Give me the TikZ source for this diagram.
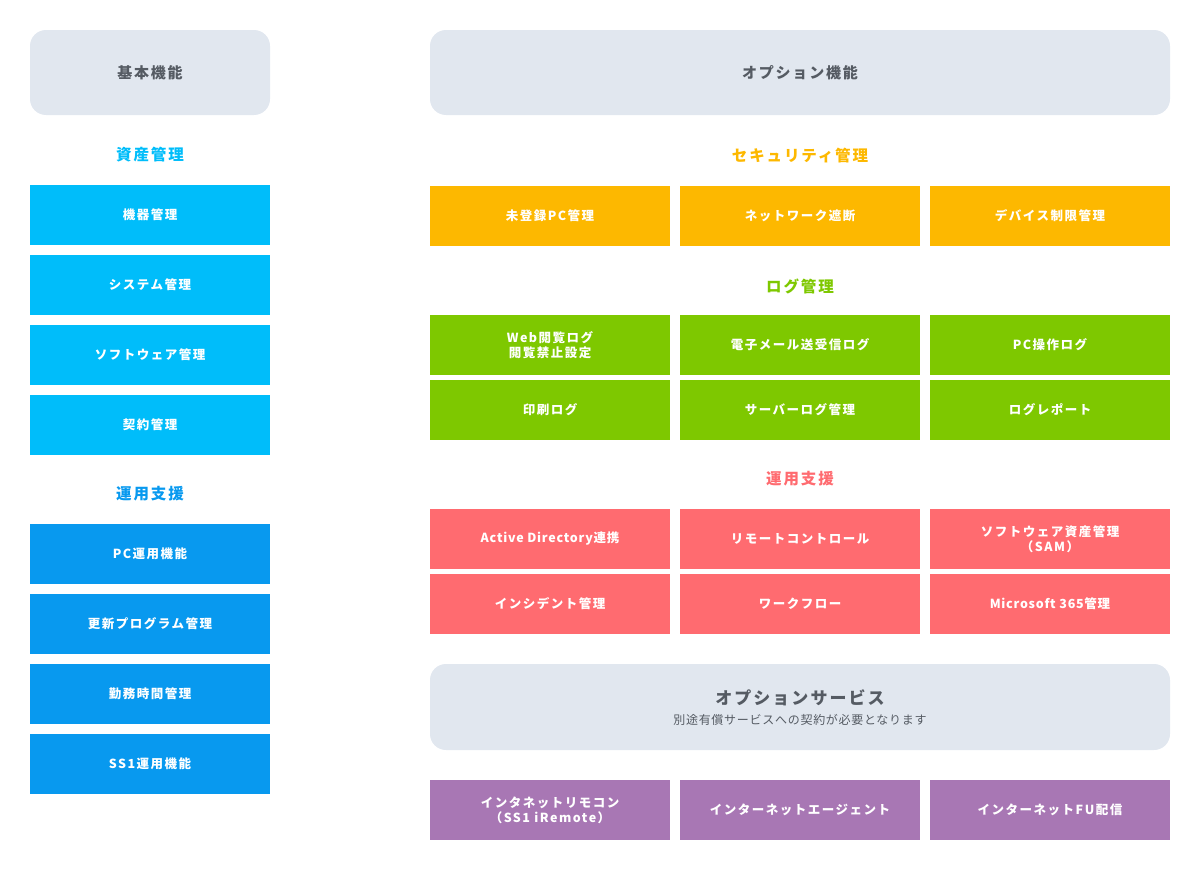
\documentclass[tikz,border=0pt]{standalone}
\usepackage{fontspec}
\setmainfont{Noto Sans CJK JP}[LetterSpace=12]
\newfontfamily\subfont{Noto Sans CJK JP}[LetterSpace=6]
\usetikzlibrary{positioning}
\definecolor{headbg}{HTML}{E1E7EF}
\definecolor{headtx}{HTML}{555B63}
\definecolor{assetc}{HTML}{00BDFA}
\definecolor{supportc}{HTML}{0899EF}
\definecolor{secc}{HTML}{FDB800}
\definecolor{logc}{HTML}{7EC800}
\definecolor{opc}{HTML}{FF6B70}
\definecolor{svcc}{HTML}{A877B4}
\tikzset{
  headbox/.style={fill=headbg, rounded corners=16pt, text=headtx, font=\bfseries\fontsize{15}{18}\selectfont},
  cell/.style={fill=#1, text=white, minimum width=240pt, minimum height=60pt, inner sep=0pt, align=center, font=\bfseries\fontsize{12.5}{15}\selectfont},
  grouplabel/.style={text=#1, font=\bfseries\fontsize{15.5}{18}\selectfont}
}
\begin{document}
\begin{tikzpicture}[x=1pt,y=-1pt]
  \useasboundingbox (0,0) rectangle (1200,870);

  % left column
  \node[headbox, minimum width=240pt, minimum height=85pt] (basic) at (150,72.5) {基本機能};
  \node[grouplabel=assetc] (asset) at (150,155) {資産管理};
  \foreach \t [count=\i] in {機器管理,システム管理,ソフトウェア管理,契約管理}
    \node[cell=assetc] (asset\i) at (150,{215+70*(\i-1)}) {\t};
  \node[grouplabel=supportc] (support) at (150,494) {運用支援};
  \foreach \t [count=\i] in {PC運用機能,更新プログラム管理,勤務時間管理,SS1運用機能}
    \node[cell=supportc] (support\i) at (150,{554+70*(\i-1)}) {\t};

  % right column
  \node[headbox, minimum width=740pt, minimum height=85pt] (option) at (800,72.5) {オプション機能};
  \node[grouplabel=secc] (sec) at (800,156) {セキュリティ管理};
  \foreach \t [count=\i] in {未登録PC管理,ネットワーク遮断,デバイス制限管理}
    \node[cell=secc] (sec\i) at ({550+250*(\i-1)},216) {\t};

  \node[grouplabel=logc] (log) at (800,286) {ログ管理};
  \foreach \t [count=\i] in {{Web閲覧ログ\\閲覧禁止設定},電子メール送受信ログ,PC操作ログ}
    \node[cell=logc] (log\i) at ({550+250*(\i-1)},345) {\t};
  \foreach \t [count=\i] in {印刷ログ,サーバーログ管理,ログレポート}
    \node[cell=logc] (logb\i) at ({550+250*(\i-1)},410) {\t};

  \node[grouplabel=opc] (op) at (800,479) {運用支援};
  \foreach \t [count=\i] in {{\subfont Active Directory連携},リモートコントロール,{ソフトウェア資産管理\\（SAM）}}
    \node[cell=opc] (op\i) at ({550+250*(\i-1)},539) {\t};
  \foreach \t [count=\i] in {インシデント管理,ワークフロー,{\subfont Microsoft 365管理}}
    \node[cell=opc] (opb\i) at ({550+250*(\i-1)},604) {\t};

  % option services
  \node[headbox, minimum width=740pt, minimum height=86pt] (svc) at (800,707) {};
  \node[text=headtx, font=\bfseries\fontsize{17}{20}\selectfont] (svct) at (800,698) {オプションサービス};
  \node[text=headtx, font=\subfont\fontsize{12}{14}\selectfont] (svcs) at (800,720) {別途有償サービスへの契約が必要となります};
  \foreach \t [count=\i] in {{インタネットリモコン\\（SS1 iRemote）},インターネットエージェント,インターネットFU配信}
    \node[cell=svcc] (svc\i) at ({550+250*(\i-1)},810) {\t};
\end{tikzpicture}
\end{document}
